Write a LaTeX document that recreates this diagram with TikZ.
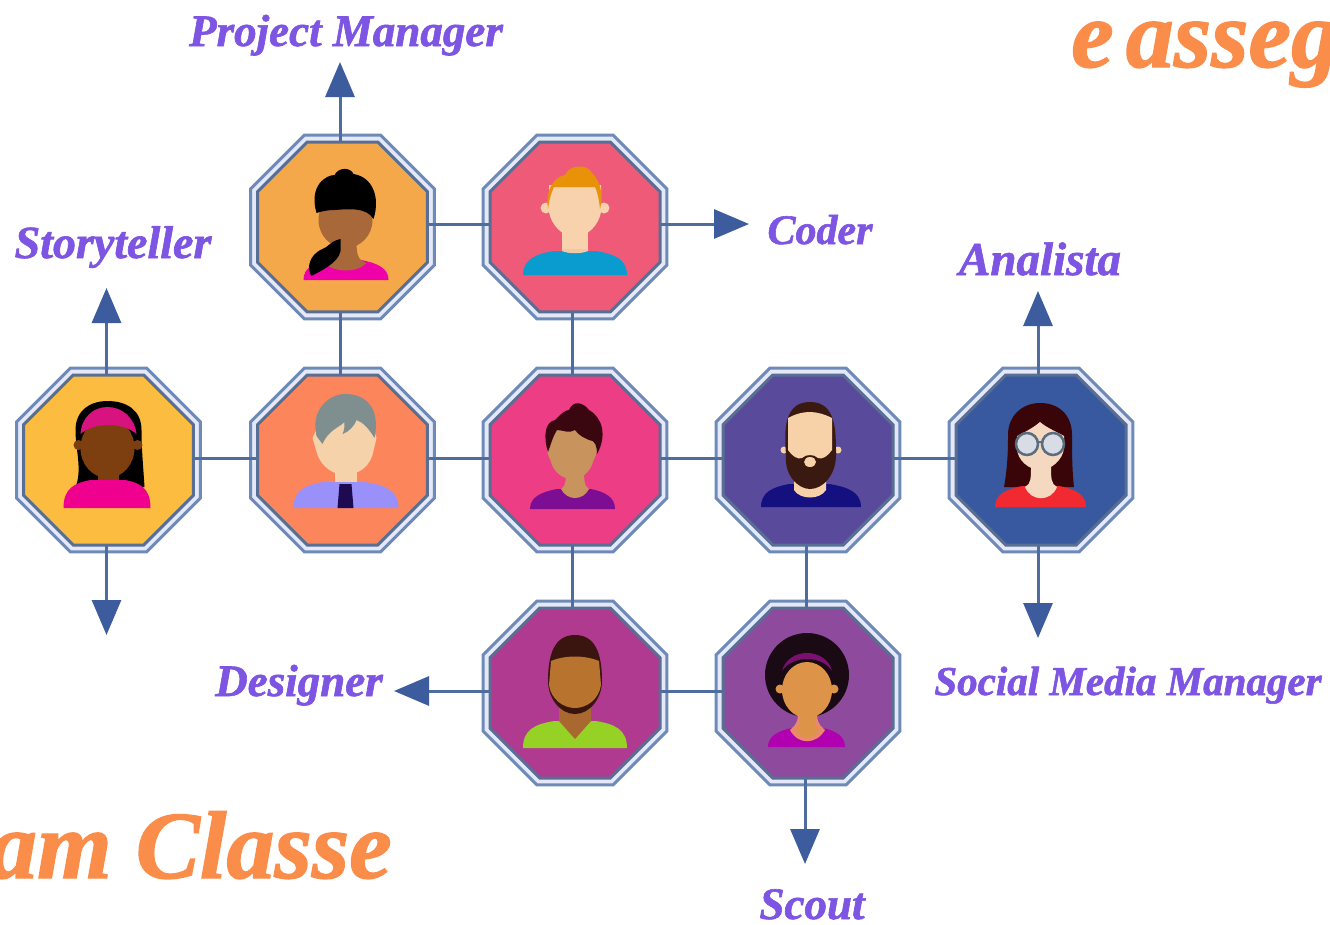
\documentclass[tikz,border=0pt]{standalone}
\usepackage{fontspec}
\setmainfont{Liberation Serif}
\newfontfamily\heavyfont[UprightFont=*/BI,FakeBold=1.4]{Liberation Serif}
\usetikzlibrary{arrows.meta,shapes.geometric}
\definecolor{linkc}{HTML}{4F6C9E}
\definecolor{headc}{HTML}{3D5C9E}
\definecolor{ringc}{HTML}{6E8BB8}
\definecolor{ringf}{HTML}{E4E8F8}
\definecolor{labelc}{HTML}{7D55E2}
\definecolor{titlec}{HTML}{FB8D4B}
\definecolor{pmF}{HTML}{F4A84A}
\definecolor{coF}{HTML}{EE5A78}
\definecolor{stF}{HTML}{FBBC40}
\definecolor{grF}{HTML}{FC855C}
\definecolor{ceF}{HTML}{EC3D85}
\definecolor{beF}{HTML}{5A4A9B}
\definecolor{anF}{HTML}{38599F}
\definecolor{deF}{HTML}{B03A90}
\definecolor{scF}{HTML}{8E4A9D}
\definecolor{pmskin}{HTML}{A8683A}
\definecolor{pmtop}{HTML}{F000A8}
\definecolor{coskin}{HTML}{F7D2AC}
\definecolor{coshade}{HTML}{F0C8A5}
\definecolor{cotop}{HTML}{0A9BCF}
\definecolor{cohair}{HTML}{E8920A}
\definecolor{stskin}{HTML}{7E3F10}
\definecolor{sttop}{HTML}{F0008F}
\definecolor{stband}{HTML}{D8127F}
\definecolor{grskin}{HTML}{F5D2AA}
\definecolor{grtop}{HTML}{9A90FA}
\definecolor{grtie}{HTML}{1E0A50}
\definecolor{grhair}{HTML}{7F8E8E}
\definecolor{ceskin}{HTML}{C8935C}
\definecolor{cetop}{HTML}{7D0E93}
\definecolor{cehair}{HTML}{3A0710}
\definecolor{beskin}{HTML}{F7D2A8}
\definecolor{behair}{HTML}{3A1A10}
\definecolor{betop}{HTML}{14107F}
\definecolor{anskin}{HTML}{F5D8C0}
\definecolor{anhair}{HTML}{3A0508}
\definecolor{antop}{HTML}{F02A30}
\definecolor{anframe}{HTML}{5A6C80}
\definecolor{anlens}{HTML}{D8DCE4}
\definecolor{deskin}{HTML}{B8742E}
\definecolor{deneck}{HTML}{A86830}
\definecolor{detop}{HTML}{96D226}
\definecolor{dehair}{HTML}{3A1510}
\definecolor{scskin}{HTML}{DE9448}
\definecolor{sctop}{HTML}{B000B0}
\definecolor{schair}{HTML}{1A0A14}
\definecolor{scband}{HTML}{7A1070}
\definecolor{sccollar}{HTML}{EB8A6A}
\tikzset{
  ring/.style={regular polygon,regular polygon sides=8,minimum size=199pt,inner sep=0pt,draw=ringc,line width=3pt,fill=ringf},
  core/.style={regular polygon,regular polygon sides=8,minimum size=184pt,inner sep=0pt,draw=ringc!80!black,line width=3pt},
  link/.style={draw=linkc,line width=3pt},
  arrowlink/.style={link,-{Triangle[length=35pt,width=29pt,color=headc]}},
  rolelabel/.style={text=labelc,font=\heavyfont\fontsize{#1}{#1}\selectfont,inner sep=0pt,anchor=base},
  bigtitle/.style={text=titlec,font=\heavyfont\fontsize{#1}{#1}\selectfont,inner sep=0pt},
}
% left x, right x, top y, bottom y, colour
\newcommand{\bustshape}[5]{%
  \fill[#5] (#1,#4) .. controls (#1,#3+8) and (#1*0.75,#3+3) .. (#1*0.4,#3) -- (#2*0.4,#3) .. controls (#2*0.75,#3+3) and (#2,#3+8) .. (#2,#4) -- cycle;}
\begin{document}
\begin{tikzpicture}[x=1pt,y=-1pt]
\useasboundingbox (0,0) rectangle (1330,924);
\fill[white] (0,0) rectangle (1330,924);
\begin{scope}
\clip (0,0) rectangle (1330,924);
\node[bigtitle=96,anchor=base east] (t1) at (392,878) {am Classe};
\node[bigtitle=96,anchor=base west] (t2) at (1071,67) {e\hspace{-12pt} assegn};
\end{scope}

% ring layer
\node[ring] (pm) at (342.5,227) {};
\node[ring] (co) at (575,227) {};
\node[ring] (st) at (108.5,460) {};
\node[ring] (gr) at (342.5,460) {};
\node[ring] (ce) at (575,460) {};
\node[ring] (be) at (808,460) {};
\node[ring] (an) at (1041,460) {};
\node[ring] (de) at (575,693) {};
\node[ring] (sc) at (808,693) {};

% free ends of the arrows
\coordinate (pmtip) at (340,62);
\coordinate (cotip) at (749,224);
\coordinate (sttip) at (106.5,288);
\coordinate (stdown) at (106.5,635);
\coordinate (antip) at (1038,291);
\coordinate (andown) at (1038,638);
\coordinate (detip) at (394,691);
\coordinate (sctip) at (805,864);

% connectors
\draw[link] ([shift={(0,-3)}]pm.center) -- ([shift={(0,-3)}]co.center);
\draw[link] ([shift={(-2.5,0)}]pm.center) -- ([shift={(-2.5,0)}]gr.center);
\draw[link] ([shift={(-3,0)}]co.center) -- ([shift={(-3,0)}]ce.center);
\draw[link] ([shift={(0,-2)}]st.center) -- ([shift={(0,-2)}]an.center);
\draw[link] ([shift={(-3,0)}]ce.center) -- ([shift={(-3,0)}]de.center);
\draw[link] ([shift={(-2,0)}]be.center) -- ([shift={(-2,0)}]sc.center);
\draw[link] ([shift={(0,-2)}]de.center) -- ([shift={(0,-2)}]sc.center);
\draw[arrowlink] (pm.center -| pmtip) -- (pmtip);
\draw[arrowlink] (co.center |- cotip) -- (cotip);
\draw[arrowlink] (st.center -| sttip) -- (sttip);
\draw[arrowlink] (st.center -| stdown) -- (stdown);
\draw[arrowlink] (an.center -| antip) -- (antip);
\draw[arrowlink] (an.center -| andown) -- (andown);
\draw[arrowlink] (de.center |- detip) -- (detip);
\draw[arrowlink] (sc.center -| sctip) -- (sctip);

% coloured faces
\node[core,fill=pmF] (pmc) at (pm) {};
\node[core,fill=coF] (coc) at (co) {};
\node[core,fill=stF] (stc) at (st) {};
\node[core,fill=grF] (grc) at (gr) {};
\node[core,fill=ceF] (cec) at (ce) {};
\node[core,fill=beF] (bec) at (be) {};
\node[core,fill=anF] (anc) at (an) {};
\node[core,fill=deF] (dec) at (de) {};
\node[core,fill=scF] (scc) at (sc) {};

% Project Manager woman
\begin{scope}[shift={(342.5,227)}]
  \bustshape{-39}{46}{33}{53}{pmtop}
  \fill[pmskin] (-18,36) .. controls (-8,33) and (-8,25) .. (-8,12) -- (14,12) .. controls (14,25) and (14,33) .. (24,36) .. controls (15,46) and (-8,46) .. (-18,36) -- cycle;
  \fill[pmskin] (3,-7) ellipse [x radius=27pt,y radius=28pt];
  \fill[black] (-26,-14) .. controls (-34,-42) and (-16,-52) .. (-8,-52) .. controls (-4,-60) and (8,-60) .. (11,-53) .. controls (30,-50) and (38,-30) .. (31,-8) .. controls (24,-20) and (6,-18) .. (-8,-17) .. controls (-14,-17) and (-20,-16) .. (-26,-14) -- cycle;
  \fill[black] (-2,12) .. controls (-12,14) and (-14,20) .. (-20,22) .. controls (-34,28) and (-36,42) .. (-31,49) .. controls (-22,44) and (-4,36) .. (-2,24) -- cycle;
\end{scope}

% Coder man
\begin{scope}[shift={(575,227)}]
  \fill[coskin] (-13,5) rectangle (13,28);
  \bustshape{-52}{52}{24}{48}{cotop}
  \fill[coshade] (-13,24) .. controls (-6,27) and (6,27) .. (13,24) -- (13,22) -- (-13,22) -- cycle;
  \fill[coskin] (-29,-19) circle (5.5pt) (29,-19) circle (5.5pt);
  \fill[coskin] (-26,-42) -- (26,-42) -- (26,-15) .. controls (24,-2) and (12,10) .. (0,10) .. controls (-12,10) and (-24,-2) .. (-26,-15) -- cycle;
  \fill[cohair] (-27,-18) .. controls (-30,-35) and (-22,-50) .. (-10,-52) .. controls (-6,-62) and (12,-64) .. (17,-54) .. controls (27,-44) and (28,-30) .. (25,-18) .. controls (24,-28) and (22,-36) .. (20,-40) -- (-21,-40) .. controls (-24,-34) and (-26,-26) .. (-27,-18) -- cycle;
\end{scope}

% Storyteller woman
\begin{scope}[shift={(108.5,460)}]
  \fill[black] (-33,27) .. controls (-26,10) and (-33,-10) .. (-33,-30) .. controls (-33,-50) and (-18,-59) .. (-1,-59) .. controls (18,-59) and (33,-50) .. (33,-30) .. controls (33,-10) and (35,10) .. (36,27) -- cycle;
  \fill[stskin] (-11,5) rectangle (10,26);
  \bustshape{-45}{42}{20}{48}{sttop}
  \fill[stskin] (-30,-15) circle (5pt) (29,-15) circle (5pt);
  \fill[stskin] (-1,-12) ellipse [x radius=27pt,y radius=30pt];
  \fill[stband] (-28,-26) .. controls (-27,-43) and (-15,-53) .. (-1,-53) .. controls (13,-53) and (26,-43) .. (28,-26) .. controls (15,-38) and (-15,-38) .. (-28,-26) -- cycle;
\end{scope}

% Grey-haired man
\begin{scope}[shift={(342.5,460)}]
  \fill[grskin] (-8,10) rectangle (14,24);
  \bustshape{-49}{56}{22}{48}{grtop}
  \fill[grtie] (-3,24) -- (9,24) -- (11,48) -- (-5,48) -- cycle;
  \fill[grskin] (-30,-22) -- (-25,-5) .. controls (-20,8) and (-8,15) .. (3,15) .. controls (14,15) and (26,8) .. (30,-5) -- (34,-22) -- (28,-40) -- (-22,-40) -- cycle;
  \fill[grhair] (-26,-24) .. controls (-32,-50) and (-14,-66) .. (3,-66) .. controls (25,-66) and (38,-50) .. (32,-22) .. controls (26,-32) and (20,-38) .. (14,-40) .. controls (12,-34) and (6,-28) .. (0,-26) .. controls (2,-30) and (2,-34) .. (2,-38) .. controls (-4,-32) and (-14,-30) .. (-20,-16) -- cycle;
\end{scope}

% Central woman
\begin{scope}[shift={(575,460)}]
  \bustshape{-45}{40}{29}{49}{cetop}
  \fill[ceskin] (-14,29) .. controls (-9,27) and (-9,18) .. (-9,8) -- (9,8) .. controls (9,18) and (9,27) .. (14,29) .. controls (8,41) and (-8,41) .. (-14,29) -- cycle;
  \fill[ceskin] (-3,-12) ellipse [x radius=25pt,y radius=24pt];
  \fill[ceskin] (-3,-5) ellipse [x radius=22pt,y radius=24pt];
  \fill[cehair] (-27,-8) .. controls (-32,-24) and (-30,-38) .. (-20,-40) .. controls (-14,-46) and (-10,-50) .. (-6,-50) .. controls (-2,-60) and (8,-58) .. (14,-50) .. controls (28,-42) and (32,-24) .. (22,-6) .. controls (22,-14) and (20,-20) .. (14,-20) .. controls (10,-22) and (4,-24) .. (0,-30) .. controls (-6,-26) and (-12,-30) .. (-18,-30) .. controls (-22,-24) and (-24,-16) .. (-27,-8) -- cycle;
\end{scope}

% Bearded man
\begin{scope}[shift={(808,460)}]
  \bustshape{-47}{53}{24}{47}{betop}
  \fill[beskin] (-14,14) -- (18,14) -- (18,30) .. controls (12,40) and (-8,40) .. (-14,30) -- cycle;
  \fill[beskin] (-24,-10) circle (3.5pt) (30,-10) circle (3.5pt);
  \fill[behair] (-22,-5) .. controls (-24,-30) and (-24,-58) .. (2,-58) .. controls (28,-58) and (28,-30) .. (28,-5) .. controls (28,15) and (15,29) .. (2,29) .. controls (-10,29) and (-24,15) .. (-22,-5) -- cycle;
  \fill[beskin] (-20,-42) .. controls (-5,-50) and (8,-50) .. (24,-42) -- (24,-10) .. controls (20,-4) and (14,0) .. (10,-2) .. controls (6,-6) and (-2,-6) .. (-6,-2) .. controls (-10,0) and (-16,-4) .. (-20,-10) -- cycle;
  \fill[beskin] (2,2) ellipse [x radius=6pt,y radius=5pt];
\end{scope}

% Analista woman
\begin{scope}[shift={(1041,460)}]
  \fill[anhair] (-37,27) .. controls (-33,5) and (-33,-15) .. (-33,-25) .. controls (-33,-45) and (-18,-57) .. (-1,-57) .. controls (18,-57) and (31,-45) .. (31,-25) .. controls (31,-10) and (31,10) .. (33,27) -- cycle;
  \bustshape{-46}{45}{26}{47}{antop}
  \fill[anskin] (-16,27) .. controls (-10,24) and (-10,18) .. (-10,6) -- (10,6) .. controls (10,18) and (10,24) .. (16,27) .. controls (10,42) and (-10,42) .. (-16,27) -- cycle;
  \fill[anskin] (-24,-24) .. controls (-16,-28) and (-8,-32) .. (-1,-38) .. controls (6,-32) and (16,-28) .. (23,-24) -- (23,-12) .. controls (22,0) and (10,10) .. (-1,10) .. controls (-12,10) and (-24,0) .. (-24,-12) -- cycle;
  \draw[anframe,line width=2.5pt,fill=anlens] (-14,-16) circle (11pt) (12,-16) circle (11pt);
  \draw[anframe,line width=2.5pt] (-3,-18) -- (1,-18);
\end{scope}

% Designer man
\begin{scope}[shift={(575,693)}]
  \bustshape{-52}{52}{28}{55}{detop}
  \fill[deneck] (-16,15) -- (16,15) -- (16,28) -- (0,46) -- (-16,28) -- cycle;
  \fill[dehair] (-27,-12) .. controls (-27,-40) and (-20,-58) .. (0,-58) .. controls (20,-58) and (27,-40) .. (27,-12) .. controls (27,5) and (15,21) .. (0,21) .. controls (-15,21) and (-27,5) .. (-27,-12) -- cycle;
  \fill[deskin] (-24,-32) .. controls (-10,-38) and (10,-38) .. (24,-32) -- (26,-8) .. controls (24,6) and (12,15) .. (0,15) .. controls (-12,15) and (-24,6) .. (-26,-8) -- cycle;
\end{scope}

% Scout woman
\begin{scope}[shift={(808,693)}]
  \bustshape{-40}{37}{35}{54}{sctop}
  \fill[schair] (-1,-18) circle (42pt);
  \fill[sccollar] (-18,37) .. controls (-10,30) and (-10,28) .. (-10,15) -- (9,15) .. controls (9,28) and (9,30) .. (17,37) .. controls (8,52) and (-10,52) .. (-18,37) -- cycle;
  \fill[scskin] (-12,37) .. controls (-8,32) and (-8,28) .. (-8,15) -- (7,15) .. controls (7,28) and (7,32) .. (11,37) .. controls (6,47) and (-7,47) .. (-12,37) -- cycle;
  \fill[scband] (-26,-22) .. controls (-20,-46) and (18,-46) .. (24,-22) .. controls (14,-38) and (-16,-38) .. (-26,-22) -- cycle;
  \fill[scskin] (-28,-4) circle (4.5pt) (26,-4) circle (4.5pt);
  \fill[scskin] (-1,-3) ellipse [x radius=25pt,y radius=28pt];
\end{scope}

% role labels
\node[rolelabel=45] (lpm) at (346,46) {Project Manager};
\node[rolelabel=46] (lst) at (113,258) {Storyteller};
\node[rolelabel=42] (lco) at (820,244) {Coder};
\node[rolelabel=47] (lan) at (1040,275) {Analista};
\node[rolelabel=41] (lsm) at (1128,695) {Social Media Manager};
\node[rolelabel=45] (lde) at (299,696) {Designer};
\node[rolelabel=45] (lsc) at (812,919) {Scout};
\end{tikzpicture}
\end{document}
